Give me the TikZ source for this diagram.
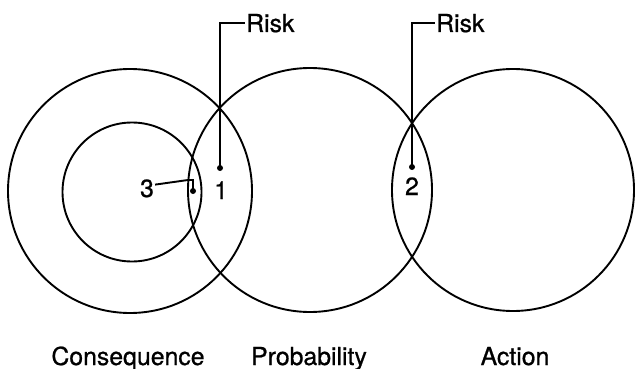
\documentclass[tikz,border=0pt]{standalone}
\usepackage{fontspec}
\setmainfont[FakeBold=0.8]{TeX Gyre Heros}
\begin{document}
\begin{tikzpicture}[x=1pt,y=-1pt,
  ring/.style={circle,draw,line width=1.9pt,inner sep=0pt},
  lbl/.style={font=\fontsize{24.8}{28}\selectfont,inner sep=1pt},
  lead/.style={line width=1.9pt},
  dot/.style={circle,fill,inner sep=0pt,minimum size=6pt}]
\useasboundingbox (0,0) rectangle (635,369);
% circles
\node[ring,minimum size=244pt] (cons) at (130,191) {};
\node[ring,minimum size=139pt] (inner) at (132,192) {};
\node[ring,minimum size=244pt] (prob) at (310,190) {};
\node[ring,minimum size=242pt] (act) at (513,190) {};
% dots
\node[dot] (d1) at (220,168) {};
\node[dot] (d2) at (412,167) {};
\node[dot] (d3) at (193,191) {};
% labels
\node[lbl,anchor=base west] (r1) at (245,32) {Risk};
\node[lbl,anchor=base west] (r2) at (435,32) {Risk};
\node[lbl,anchor=base] (n1) at (221,199) {1};
\node[lbl,anchor=base] (n2) at (412,195) {2};
\node[lbl,anchor=base] (n3) at (147,197) {3};
\coordinate (c3) at (188,180);
\node[lbl,anchor=base] (tc) at (128,365) {Consequence};
\node[lbl,anchor=base] (tp) at (309,365) {Probability};
\node[lbl,anchor=base] (ta) at (515,365) {Action};
% leaders
\draw[lead] (d1.center) |- (r1.west);
\draw[lead] (d2.center) |- (r2.west);
\draw[lead] (n3.25) -- (c3) -| (d3.center);
\end{tikzpicture}
\end{document}
